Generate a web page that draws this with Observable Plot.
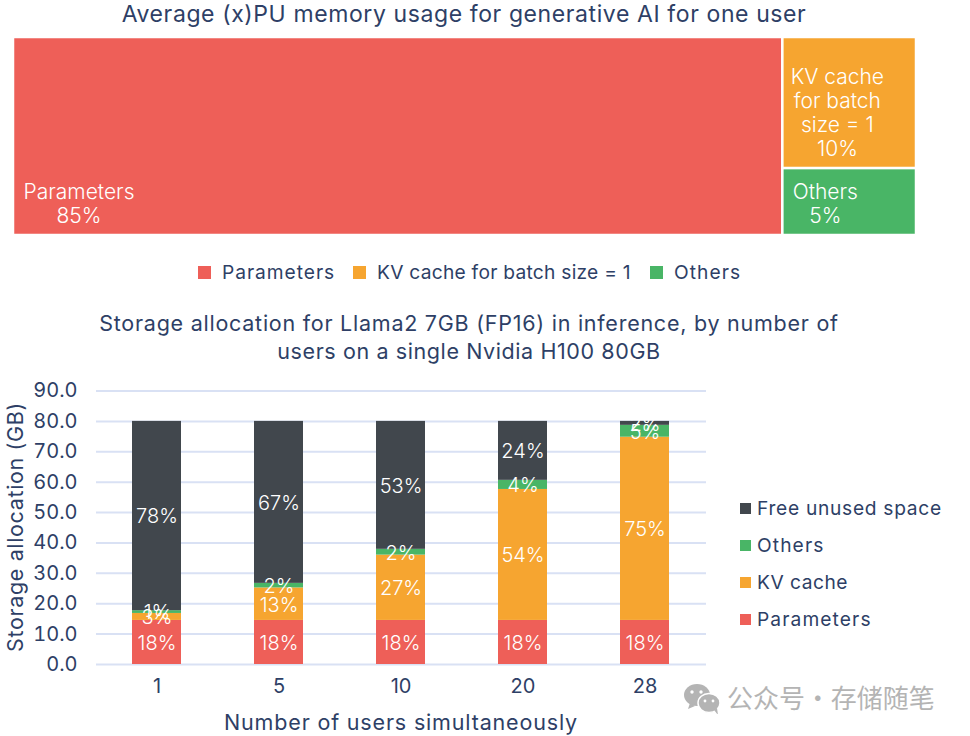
<!DOCTYPE html>
<html><head><meta charset="utf-8">
<script src="https://cdn.jsdelivr.net/npm/d3@7"></script>
<script src="https://cdn.jsdelivr.net/npm/@observablehq/plot@0.6"></script>
<style>
html,body{margin:0;padding:0;background:#fff}
#page{position:relative;width:970px;height:736px;overflow:hidden;font-family:Inter,sans-serif;color:#2E3F66}
.t{position:absolute;white-space:nowrap;text-align:center}
.leg{position:absolute;display:flex;align-items:center;white-space:nowrap;font-size:19.2px}
.sw{display:inline-block;width:11px;height:11px;margin-right:6px}
</style></head><body><div id="page"></div>
<script>
// ---- data ----
const memNames = ["Parameters", "KV cache for batch size = 1", "Others"];
const memShares = [85.2, 9.8, 5];
const memLines = [["Parameters","85%"], ["KV cache","for batch","size = 1","10%"], ["Others","5%"]];

const users = ["1","5","10","20","28"];
const seriesNames = ["Parameters","KV cache","Others","Free unused space"];
const paramGB  = [14.5,14.5,14.5,14.5,14.5];
const kvGB     = [2.3,10.7,21.5,43.1,60.3];
const othersGB = [0.9,1.5,1.9,3.0,3.9];
const freeGB   = [62.3,53.3,42.1,19.4,1.3];
const paramPct  = ["18%","18%","18%","18%","18%"];
const kvPct     = ["3%","13%","27%","54%","75%"];
const othersPct = ["1%","2%","2%","4%","5%"];
const freePct   = ["78%","67%","53%","24%","2%"];

const colMem = ["#EE5F58","#F6A530","#49B566"];
const colBar = ["#EE5F58","#F6A530","#49B566","#41474D"];
const ink = "#2E3F66";
const page = document.getElementById("page");

function text(s,css){const d=document.createElement("div");d.className="t";d.textContent=s;d.style.cssText=css;page.append(d);return d}
function place(svg){svg.style.position="absolute";svg.style.left="0";svg.style.top="0";svg.style.maxWidth="none";page.append(svg)}

// ---- treemap ----
const restShare = memShares[1]+memShares[2];
const cells = [
  {name:memNames[0],lines:memLines[0],x1:0,x2:memShares[0],y1:0,y2:1,dx:65.5,dy:67},
  {name:memNames[1],lines:memLines[1],x1:memShares[0],x2:100,y1:1-memShares[1]/restShare,y2:1,dx:54.5,dy:9},
  {name:memNames[2],lines:memLines[2],x1:memShares[0],x2:100,y1:0,y2:1-memShares[1]/restShare,dx:42.5,dy:1}
];
const tree = Plot.plot({
  width:970,height:250,margin:0,
  x:{domain:[0,100],range:[13,916],axis:null},
  y:{domain:[0,1],range:[235,37],axis:null},
  color:{domain:memNames,range:colMem},
  style:{background:"transparent"},
  marks:[
    Plot.rect(cells,{x1:"x1",x2:"x2",y1:"y1",y2:"y2",fill:"name",stroke:"#fff",strokeWidth:2.5}),
    ...cells.map(c=>Plot.text([c],{
      x:"x1",y:d=>(d.y1+d.y2)/2,dx:c.dx,dy:c.dy,text:d=>d.lines.join("\n"),
      fill:"#fff",fontSize:21,lineHeight:1.14,textAnchor:"middle",fontFamily:"Inter",fontWeight:300
    }))
  ]
});
place(tree);

// ---- stacked bars ----
const rows = users.flatMap((u,i)=>[
  {u,series:seriesNames[0],gb:paramGB[i],pct:paramPct[i]},
  {u,series:seriesNames[1],gb:kvGB[i],pct:kvPct[i]},
  {u,series:seriesNames[2],gb:othersGB[i],pct:othersPct[i]},
  {u,series:seriesNames[3],gb:freeGB[i],pct:freePct[i]}
]);
const bars = Plot.plot({
  width:970,height:736,
  marginLeft:96,marginRight:264,marginTop:390.5,marginBottom:72,
  x:{domain:users,paddingInner:0.6,paddingOuter:0.3,align:0.487,label:null,tickSize:0,tickPadding:14},
  y:{domain:[0,90],ticks:d3.range(0,91,10),tickFormat:d=>d.toFixed(1),label:null,tickSize:0,tickPadding:19},
  color:{domain:seriesNames,range:colBar},
  style:{background:"transparent",fontFamily:"Inter",fontSize:"20px",color:ink},
  marks:[
    Plot.gridY(d3.range(0,91,10),{stroke:"#D9E1F4",strokeOpacity:1,strokeWidth:2}),
    Plot.barY(rows,{x:"u",y:"gb",fill:"series",order:null}),
    Plot.text(rows,Plot.stackY({x:"u",y:"gb",z:"series",order:null,text:"pct",dy:1,fill:"#fff",fontSize:20,fontFamily:"Inter",fontWeight:300}))
  ]
});
place(bars);

// ---- titles ----
text("Average (x)PU memory usage for generative AI for one user","left:0;width:928px;top:0;font-size:23px;letter-spacing:.6px;line-height:28px");
text("Storage allocation for Llama2 7GB (FP16) in inference, by number of","left:0;width:938px;top:309px;font-size:21.5px;letter-spacing:.75px;line-height:28px");
text("users on a single Nvidia H100 80GB","left:0;width:938px;top:337px;font-size:21.5px;letter-spacing:.6px;line-height:28px");
text("Number of users simultaneously","left:0;width:802px;top:708px;font-size:21.5px;letter-spacing:.83px;line-height:28px");
text("Storage allocation (GB)","left:15px;top:527px;font-size:21.5px;letter-spacing:.65px;line-height:28px;transform:translate(-50%,-50%) rotate(-90deg)");

// ---- legends ----
[[198,0,.95],[353,1,.25],[650,2,1.05]].forEach(([x,i,ls])=>{const d=document.createElement("div");d.className="leg";d.style.left=x+"px";d.style.top="260px";d.style.height="24px";d.style.letterSpacing=ls+"px";
  d.innerHTML=`<span class="sw" style="width:13px;height:13px;margin-right:11px;background:${colMem[i]}"></span>${memNames[i]}`;page.append(d)});
[[3,508,.7],[2,545,1.1],[1,582,.5],[0,619,1.1]].forEach(([i,y,ls])=>{const d=document.createElement("div");d.className="leg";d.style.left="740px";d.style.top=(y-12)+"px";d.style.height="24px";d.style.letterSpacing=ls+"px";
  d.innerHTML=`<span class="sw" style="background:${colBar[i]}"></span>${seriesNames[i]}`;page.append(d)});

// ---- watermark ----
text("公众号 · 存储随笔",'left:727px;top:682px;font-size:26px;word-spacing:-6px;line-height:30px;color:#B4B4B4;font-family:"Noto Sans CJK SC"');
const ic=document.createElementNS("http://www.w3.org/2000/svg","svg");
ic.setAttribute("width","40");ic.setAttribute("height","32");ic.style.cssText="position:absolute;left:682px;top:682px";
ic.innerHTML='<ellipse cx="15" cy="13" rx="13" ry="11" fill="#B4B4B4"/><path d="M8 21l-2 6 7-3z" fill="#B4B4B4"/><ellipse cx="27" cy="21" rx="11" ry="9.5" fill="#B4B4B4" stroke="#fff" stroke-width="1.5"/><path d="M32 28l4 5-1-7z" fill="#B4B4B4"/><circle cx="10" cy="10" r="1.7" fill="#fff"/><circle cx="19" cy="10" r="1.7" fill="#fff"/><circle cx="23" cy="19" r="1.4" fill="#fff"/><circle cx="31" cy="19" r="1.4" fill="#fff"/>';
page.append(ic);
</script></body></html>
